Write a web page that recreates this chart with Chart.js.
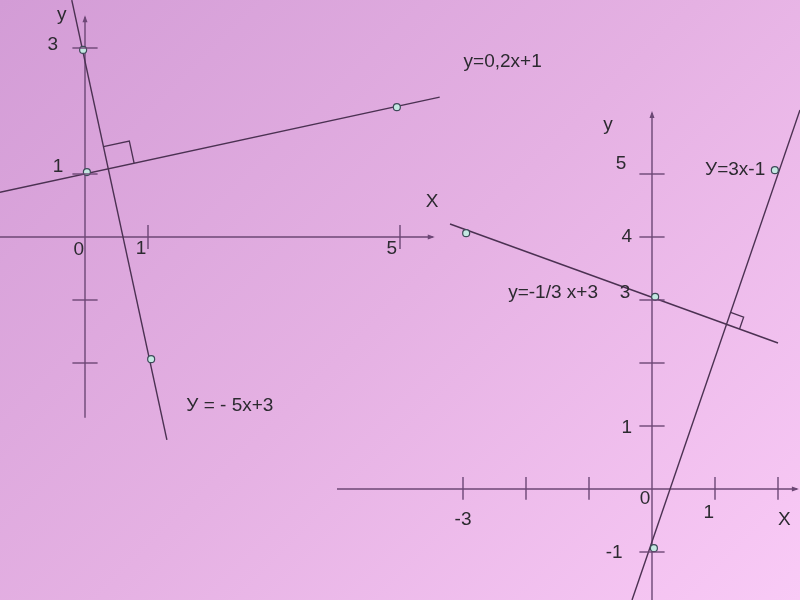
<!DOCTYPE html>
<html><head><meta charset="utf-8">
<script src="https://cdn.jsdelivr.net/npm/chart.js@4"></script>
<style>
html,body{margin:0;padding:0;}
body{width:800px;height:600px;overflow:hidden;background:linear-gradient(135deg,#d39cd6 0%,#e5b1e3 50%,#f9caf6 100%);}
canvas{display:block;}
</style>
</head><body>
<canvas id="c" width="800" height="600"></canvas>
<script>
// ---------- Left coordinate system (data in its own units) ----------
const L_lineA_x = [-1.35, 5.63];   // y = 0,2x+1
const L_lineA_y = [0.71, 2.22];
const L_lineB_x = [-0.21, 1.30];   // y = -5x+3
const L_lineB_y = [3.76, -3.22];
const L_points_x = [-0.03, 0.03, 4.95, 1.05];
const L_points_y = [2.97, 1.03, 2.06, -1.94];
const L_xAxis = [-1.35, 5.52];
const L_yAxis = [-2.87, 3.49];
const L_xTicks = [1, 5];
const L_yTicks = [3, 1, -1, -2];
const L_tickLabels = [
  {t:'у', x:-0.37, y:3.52}, {t:'3', x:-0.51, y:3.05}, {t:'1', x:-0.43, y:1.11},
  {t:'0', x:-0.10, y:-0.20}, {t:'1', x:0.89, y:-0.19}, {t:'5', x:4.87, y:-0.19},
  {t:'X', x:5.51, y:0.56}
];
const L_eqLabels = [
  {t:'y=0,2x+1', x:6.63, y:2.78}, {t:'У = - 5x+3', x:2.30, y:-2.68}
];
const L_rightAngle = [0.36, 0.42];

// ---------- Right coordinate system ----------
const R_lineC_x = [-0.317, 2.349]; // y = 3x-1
const R_lineC_y = [-1.762, 6.016];
const R_lineD_x = [-3.206, 2.0];   // y = -1/3 x+3
const R_lineD_y = [4.206, 2.317];
const R_points_x = [0.03, 1.95, -2.95, 0.05];
const R_points_y = [-0.94, 5.06, 4.06, 3.05];
const R_xAxis = [-5.0, 2.30];
const R_yAxis = [-1.762, 5.97];
const R_xTicks = [-3, -2, -1, 1, 2];
const R_yTicks = [5, 4, 3, 2, 1, -1];
const R_tickLabels = [
  {t:'у', x:-0.70, y:5.78}, {t:'5', x:-0.49, y:5.16}, {t:'4', x:-0.40, y:4.0},
  {t:'3', x:-0.43, y:3.11}, {t:'1', x:-0.40, y:0.97}, {t:'0', x:-0.11, y:-0.16},
  {t:'-1', x:-0.60, y:-1.02}, {t:'-3', x:-3.0, y:-0.49}, {t:'1', x:0.90, y:-0.37},
  {t:'X', x:2.10, y:-0.49}
];
const R_eqLabels = [
  {t:'y=-1/3 x+3', x:-1.57, y:3.11}, {t:'У=3x-1', x:1.32, y:5.06}
];
const R_rightAngle = [0.20, 0.22];

// ---------- layout (pixel placement of each origin and unit size) ----------
const W = 800, H = 600, UNIT = 63;
const L_origin = [85, 237];
const R_origin = [652, 489];

const LINE_COLOR = '#4b3152';
const AXIS_COLOR = '#6c4775';
const TEXT_COLOR = '#2c2a30';
const FONT = '"Liberation Sans", Arial, sans-serif';

function pts(xs, ys){ return xs.map((x,i)=>({x:x, y:ys[i]})); }
function rangeX(o){ return {min: -o[0]/UNIT, max: (W-o[0])/UNIT}; }
function rangeY(o){ return {min: -(H-o[1])/UNIT, max: o[1]/UNIT}; }

function lineDs(xs, ys, ax, color, width, order){
  return {data: pts(xs, ys), xAxisID: 'x'+ax, yAxisID: 'y'+ax, showLine: true,
    borderColor: color, borderWidth: width, pointRadius: 0, fill: false, order: order, clip: false};
}
function pointDs(xs, ys, ax){
  return {data: pts(xs, ys), xAxisID: 'x'+ax, yAxisID: 'y'+ax, showLine: false,
    pointRadius: 3.5, pointBackgroundColor: '#c4e8e2', pointBorderColor: '#3d4a58',
    pointBorderWidth: 1.2, order: 0};
}

const datasets = [
  lineDs(L_xAxis, [0,0], 1, AXIS_COLOR, 1.4, 3),
  lineDs([0,0], L_yAxis, 1, AXIS_COLOR, 1.4, 3),
  lineDs(R_xAxis, [0,0], 2, AXIS_COLOR, 1.4, 3),
  lineDs([0,0], R_yAxis, 2, AXIS_COLOR, 1.4, 3),
  lineDs(L_lineA_x, L_lineA_y, 1, LINE_COLOR, 1.4, 1),
  lineDs(L_lineB_x, L_lineB_y, 1, LINE_COLOR, 1.4, 1),
  lineDs(R_lineC_x, R_lineC_y, 2, LINE_COLOR, 1.4, 1),
  lineDs(R_lineD_x, R_lineD_y, 2, LINE_COLOR, 1.4, 1),
  pointDs(L_points_x, L_points_y, 1),
  pointDs(R_points_x, R_points_y, 2)
];

function intersect(ax, ay, bx, by){
  const k1 = (ay[1]-ay[0])/(ax[1]-ax[0]), b1 = ay[0]-k1*ax[0];
  const k2 = (by[1]-by[0])/(bx[1]-bx[0]), b2 = by[0]-k2*bx[0];
  const x = (b2-b1)/(k1-k2);
  return {x:x, y:k1*x+b1};
}

const decor = {
  id: 'decor',
  afterDatasetsDraw(chart){
    const ctx = chart.ctx;
    const S = chart.scales;
    const P = (sys, x, y) => [S['x'+sys].getPixelForValue(x), S['y'+sys].getPixelForValue(y)];
    ctx.save();
    ctx.strokeStyle = AXIS_COLOR; ctx.lineWidth = 1.4;
    function seg(sys, x1, y1, x2, y2){
      const a = P(sys, x1, y1), b = P(sys, x2, y2);
      ctx.beginPath(); ctx.moveTo(a[0], a[1]); ctx.lineTo(b[0], b[1]); ctx.stroke();
    }
    L_xTicks.forEach(v => seg(1, v, 0.19, v, -0.19));
    L_yTicks.forEach(v => seg(1, -0.2, v, 0.2, v));
    R_xTicks.forEach(v => seg(2, v, 0.19, v, -0.17));
    R_yTicks.forEach(v => seg(2, -0.2, v, 0.2, v));
    ctx.fillStyle = AXIS_COLOR;
    function arrow(sys, x, y, dir){
      const p = P(sys, x, y);
      ctx.beginPath();
      if (dir === 'r'){ ctx.moveTo(p[0]+2, p[1]); ctx.lineTo(p[0]-5, p[1]-2.5); ctx.lineTo(p[0]-5, p[1]+2.5); }
      else { ctx.moveTo(p[0], p[1]-2); ctx.lineTo(p[0]-2.5, p[1]+5); ctx.lineTo(p[0]+2.5, p[1]+5); }
      ctx.closePath(); ctx.fill();
    }
    arrow(1, L_xAxis[1], 0, 'r'); arrow(1, 0, L_yAxis[1], 'u');
    arrow(2, R_xAxis[1], 0, 'r'); arrow(2, 0, R_yAxis[1], 'u');
    ctx.strokeStyle = LINE_COLOR; ctx.lineWidth = 1.3;
    function marker(sys, steepX, steepY, flatX, flatY, sizes){
      const c = intersect(steepX, steepY, flatX, flatY);
      const pc = P(sys, c.x, c.y);
      const top = steepY[0] > steepY[1] ? 0 : 1;
      const ps = P(sys, steepX[top], steepY[top]);
      const pf = P(sys, flatX[1], flatY[1]);
      let d1 = [ps[0]-pc[0], ps[1]-pc[1]]; let n1 = Math.hypot(d1[0], d1[1]); d1 = [d1[0]/n1, d1[1]/n1];
      let d2 = [pf[0]-pc[0], pf[1]-pc[1]]; let n2 = Math.hypot(d2[0], d2[1]); d2 = [d2[0]/n2, d2[1]/n2];
      const s1 = sizes[0]*UNIT, s2 = sizes[1]*UNIT;
      const a = [pc[0]+d1[0]*s1, pc[1]+d1[1]*s1];
      const b = [a[0]+d2[0]*s2, a[1]+d2[1]*s2];
      const cc = [pc[0]+d2[0]*s2, pc[1]+d2[1]*s2];
      ctx.beginPath(); ctx.moveTo(a[0], a[1]); ctx.lineTo(b[0], b[1]); ctx.lineTo(cc[0], cc[1]); ctx.stroke();
    }
    marker(1, L_lineB_x, L_lineB_y, L_lineA_x, L_lineA_y, L_rightAngle);
    marker(2, R_lineC_x, R_lineC_y, R_lineD_x, R_lineD_y, R_rightAngle);
    ctx.fillStyle = TEXT_COLOR; ctx.textAlign = 'center'; ctx.textBaseline = 'middle';
    ctx.font = '19px ' + FONT;
    L_tickLabels.forEach(l => { const p = P(1, l.x, l.y); ctx.fillText(l.t, p[0], p[1]); });
    R_tickLabels.forEach(l => { const p = P(2, l.x, l.y); ctx.fillText(l.t, p[0], p[1]); });
    ctx.font = '19px ' + FONT;
    L_eqLabels.forEach(l => { const p = P(1, l.x, l.y); ctx.fillText(l.t, p[0], p[1]); });
    R_eqLabels.forEach(l => { const p = P(2, l.x, l.y); ctx.fillText(l.t, p[0], p[1]); });
    ctx.restore();
  }
};

const lx = rangeX(L_origin), ly = rangeY(L_origin), rx = rangeX(R_origin), ry = rangeY(R_origin);
new Chart(document.getElementById('c'), {
  type: 'scatter',
  data: { datasets: datasets },
  options: {
    responsive: false, animation: false, events: [],
    layout: { padding: 0, autoPadding: false },
    plugins: { legend: { display: false }, tooltip: { enabled: false } },
    scales: {
      x1: { type: 'linear', position: 'bottom', min: lx.min, max: lx.max, display: false },
      y1: { type: 'linear', position: 'left', min: ly.min, max: ly.max, display: false },
      x2: { type: 'linear', position: 'bottom', min: rx.min, max: rx.max, display: false },
      y2: { type: 'linear', position: 'left', min: ry.min, max: ry.max, display: false }
    },
    elements: { line: { tension: 0 } }
  },
  plugins: [decor]
});
</script>
</body></html>
